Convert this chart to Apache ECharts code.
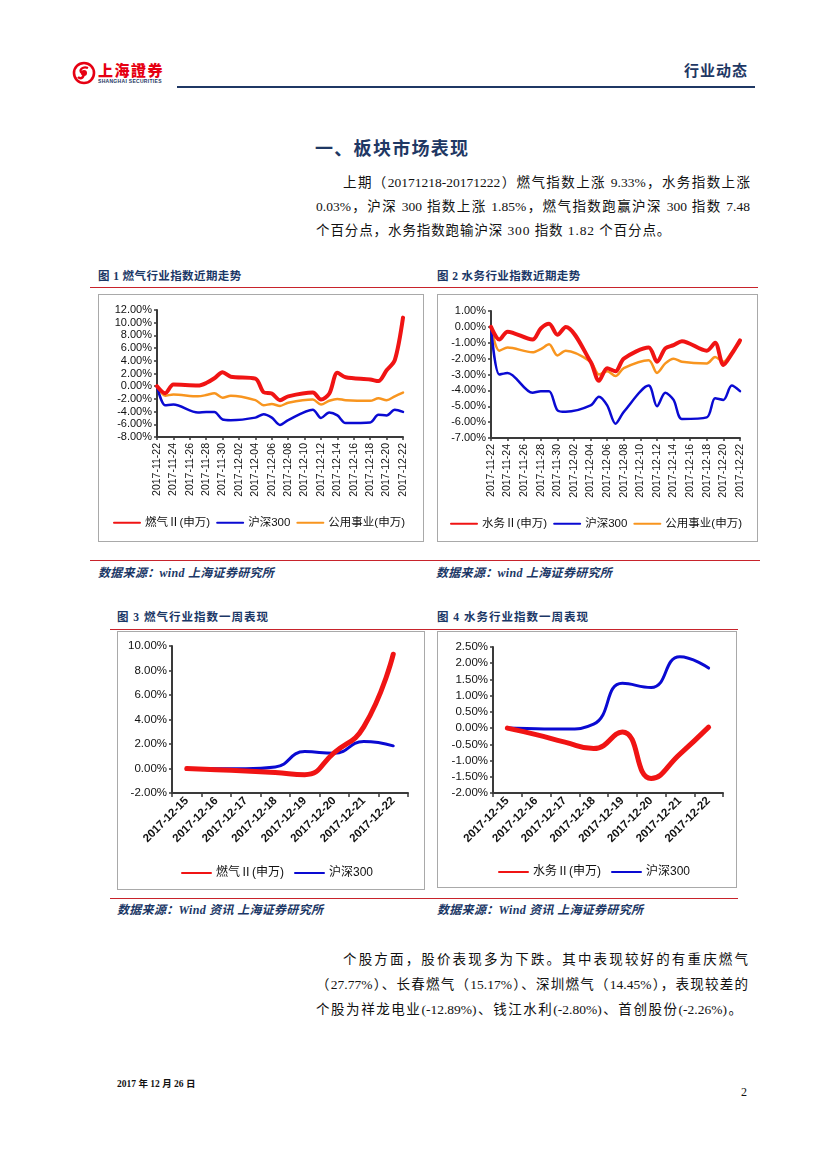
<!DOCTYPE html>
<html>
<head>
<meta charset="utf-8">
<script src="https://cdn.jsdelivr.net/npm/echarts@6/dist/echarts.min.js"></script>
<style>
  html,body{margin:0;padding:0;background:#fff;}
  #page{position:relative;width:827px;height:1169px;overflow:hidden;background:#fff;}
  .abs{position:absolute;white-space:nowrap;}
  .navy{color:#1F3864;}
  .body{font-family:"Liberation Serif","Noto Sans CJK SC",serif;font-size:13.5px;color:#111;line-height:1;}
  .just{text-align:justify;text-align-last:justify;}
  .cap{font-family:"Liberation Serif","Noto Sans CJK SC",serif;font-size:11.5px;font-weight:bold;color:#1B3766;line-height:1;letter-spacing:0.4px;}
  .src{font-family:"Liberation Serif","Noto Sans CJK SC",serif;font-size:12px;font-weight:bold;font-style:italic;color:#1B3766;line-height:1;letter-spacing:0.3px;}
  .rule{position:absolute;height:1px;background:#C8232B;}
  .box{position:absolute;border:1px solid #A9A9A9;box-sizing:border-box;}
</style>
</head>
<body>
<div id="page">
  <!-- header -->
  <svg class="abs" style="left:72px;top:61px" width="24" height="24" viewBox="0 0 24 24">
    <circle cx="12" cy="12" r="10" fill="none" stroke="#E60012" stroke-width="2.6"/>
    <path d="M16 7 C11 5,6 9,10 12 C14 15,9 19,6 16" fill="none" stroke="#E60012" stroke-width="2.4"/>
    <circle cx="12" cy="12" r="3" fill="#E60012"/>
  </svg>
  <div class="abs" style="left:98px;top:62px;font-family:'Noto Sans CJK TC';font-weight:900;font-size:15px;color:#E60012;letter-spacing:1.5px;line-height:1;">上海證券</div>
  <div class="abs" style="left:98px;top:79px;font-family:'Liberation Sans';font-weight:bold;font-size:5px;color:#1F3864;line-height:1;letter-spacing:0.3px;">SHANGHAI SECURITIES</div>
  <div class="abs" style="left:177px;top:86px;width:578px;height:2px;background:#1F3864;"></div>
  <div class="abs navy" style="left:684px;top:62px;font-family:'Noto Sans CJK SC';font-weight:bold;font-size:15px;line-height:1;letter-spacing:1px;">行业动态</div>

  <!-- section title -->
  <div class="abs navy" style="left:315px;top:138px;font-family:'Noto Sans CJK SC';font-weight:bold;font-size:18px;line-height:1;letter-spacing:1.3px;">一、板块市场表现</div>
  <div class="abs body just" style="left:343px;top:176px;width:407px;">上期（20171218-20171222）燃气指数上涨 9.33%，水务指数上涨</div>
  <div class="abs body just" style="left:316px;top:200px;width:434px;">0.03%，沪深 300 指数上涨 1.85%，燃气指数跑赢沪深 300 指数 7.48</div>
  <div class="abs body" style="left:316px;top:224px;letter-spacing:0.9px;">个百分点，水务指数跑输沪深 300 指数 1.82 个百分点。</div>

  <!-- figure row 1 -->
  <div class="abs cap" style="left:98px;top:271px;">图 1 燃气行业指数近期走势</div>
  <div class="abs cap" style="left:437px;top:271px;">图 2 水务行业指数近期走势</div>
  <div class="rule" style="left:90px;top:287px;width:668px;"></div>
  <div class="box" id="c1" style="left:98px;top:294px;width:326px;height:248px;"></div>
  <div class="box" id="c2" style="left:437px;top:294px;width:321px;height:248px;"></div>
  <div class="rule" style="left:90px;top:560px;width:670px;"></div>
  <div class="abs src" style="left:98px;top:567px;">数据来源：wind 上海证券研究所</div>
  <div class="abs src" style="left:436px;top:567px;">数据来源：wind 上海证券研究所</div>

  <!-- figure row 2 -->
  <div class="abs cap" style="left:117px;top:612px;letter-spacing:1px;">图 3 燃气行业指数一周表现</div>
  <div class="abs cap" style="left:437px;top:612px;letter-spacing:1px;">图 4 水务行业指数一周表现</div>
  <div class="rule" style="left:110px;top:629px;width:628px;"></div>
  <div class="box" id="c3" style="left:117px;top:631px;width:308px;height:259px;"></div>
  <div class="box" id="c4" style="left:437px;top:631px;width:300px;height:257px;"></div>
  <div class="rule" style="left:110px;top:898px;width:628px;"></div>
  <div class="abs src" style="left:117px;top:904px;">数据来源：Wind 资讯 上海证券研究所</div>
  <div class="abs src" style="left:437px;top:904px;">数据来源：Wind 资讯 上海证券研究所</div>

  <!-- paragraph 2 -->
  <div class="abs body just" style="left:343px;top:953px;width:405px;">个股方面，股价表现多为下跌。其中表现较好的有重庆燃气</div>
  <div class="abs body just" style="left:316px;top:978px;width:432px;">（27.77%）、长春燃气（15.17%）、深圳燃气（14.45%），表现较差的</div>
  <div class="abs body just" style="left:316px;top:1003px;width:426px;">个股为祥龙电业(-12.89%)、钱江水利(-2.80%)、首创股份(-2.26%)。</div>

  <!-- footer -->
  <div class="abs" style="left:117px;top:1080px;font-family:'Liberation Serif','Noto Sans CJK SC',serif;font-weight:bold;font-size:9.5px;color:#111;line-height:1;">2017 年 12 月 26 日</div>
  <div class="abs" style="left:741px;top:1086px;font-family:'Liberation Serif',serif;font-size:12px;color:#111;line-height:1;">2</div>
</div>

<script>
// ---------------- data ----------------
const calendarDays = ['2017-11-22','2017-11-23','2017-11-24','2017-11-25','2017-11-26','2017-11-27','2017-11-28','2017-11-29','2017-11-30','2017-12-01','2017-12-02','2017-12-03','2017-12-04','2017-12-05','2017-12-06','2017-12-07','2017-12-08','2017-12-09','2017-12-10','2017-12-11','2017-12-12','2017-12-13','2017-12-14','2017-12-15','2017-12-16','2017-12-17','2017-12-18','2017-12-19','2017-12-20','2017-12-21','2017-12-22'];
const tradeDates = ['2017-11-22','2017-11-23','2017-11-24','2017-11-27','2017-11-28','2017-11-29','2017-11-30','2017-12-01','2017-12-04','2017-12-05','2017-12-06','2017-12-07','2017-12-08','2017-12-11','2017-12-12','2017-12-13','2017-12-14','2017-12-15','2017-12-18','2017-12-19','2017-12-20','2017-12-21','2017-12-22'];
const gasIndex   = [0, -1.1, 0.25, 0.1, 0.5, 1.25, 2.2, 1.5, 1.2, -0.95, -1.15, -2.2, -1.6, -1.0, -2.1, -1.2, 2.1, 1.4, 1.05, 0.8, 2.5, 4.1, 10.8];
const waterIndex = [0, -0.8, -0.3, -0.8, -0.1, 0.2, -0.5, 0.0, -2.2, -3.4, -2.6, -2.8, -2.0, -1.3, -2.2, -1.35, -1.15, -0.9, -1.5, -1.0, -2.4, -1.7, -0.85];
const hs300      = [0, -3.0, -2.9, -4.15, -4.05, -4.05, -5.25, -5.35, -4.95, -4.4, -4.95, -6.1, -5.35, -3.7, -5.0, -4.15, -4.6, -5.8, -5.7, -4.5, -4.6, -3.7, -4.05];
const utilities  = [0, -1.5, -1.3, -1.6, -1.4, -1.1, -1.8, -1.5, -2.2, -3.0, -2.8, -3.1, -2.6, -2.1, -2.9, -2.3, -2.0, -2.2, -2.3, -1.9, -2.2, -1.6, -1.0];

const weekDates = ['2017-12-15','2017-12-16','2017-12-17','2017-12-18','2017-12-19','2017-12-20','2017-12-21','2017-12-22'];
const gasWeek   = [0, -0.1, -0.2, -0.32, -0.5, 1.3, 3.4, 9.33];
const waterWeek = [0, -0.2, -0.43, -0.63, -0.12, -1.55, -0.8, 0.03];
const hs300Week = [0, -0.02, -0.03, 0.12, 1.38, 1.25, 2.2, 1.85];

const NAME_GAS = '燃气Ⅱ(申万)';
const NAME_WATER = '水务Ⅱ(申万)';
const NAME_HS = '沪深300';
const NAME_UTIL = '公用事业(申万)';

// ---------------- styles ----------------
const RED = '#F01414', BLUE = '#0A0AD2', ORANGE = '#F8951F', AXIS = '#3A3A3A';
const FONT = '"Liberation Sans", "Noto Sans CJK SC", sans-serif';

function onCalendar(values) {
  // place trading-day values on the calendar axis (weekends empty)
  return calendarDays.map(d => {
    const i = tradeDates.indexOf(d);
    return i >= 0 ? values[i] : null;
  });
}

function pct(v) { return v.toFixed(2) + '%'; }

function yAxisOpt(min, max, interval, fs) {
  return {
    type: 'value', min: min, max: max, interval: interval,
    axisLine: {show: true, lineStyle: {color: AXIS, width: 2}},
    axisTick: {show: true, length: 3, lineStyle: {color: AXIS, width: 1.5}},
    splitLine: {show: false},
    axisLabel: {formatter: pct, color: '#111', fontSize: fs, fontFamily: FONT, margin: 5}
  };
}

function legendOpt(left, top, names, iw, gap, fs) {
  return {
    left: left, top: top, width: 400, itemWidth: iw, itemHeight: 12, itemGap: gap,
    itemStyle: {opacity: 0},
    data: names,
    textStyle: {fontSize: fs, color: '#111', fontFamily: FONT}
  };
}

function lineSeries(name, data, color, width, smooth) {
  return {
    name: name, type: 'line', data: data, smooth: smooth, connectNulls: true,
    symbol: 'none', showSymbol: false,
    lineStyle: {color: color, width: width, cap: 'round', join: 'round'},
    itemStyle: {color: color}
  };
}

function monthChart(el, grid, legend, yMin, yMax, yInt, mainName, mainData) {
  const chart = echarts.init(document.getElementById(el), null, {renderer: 'canvas'});
  chart.setOption({
    animation: false,
    grid: grid,
    legend: legendOpt(legend[0], legend[1], [mainName, NAME_HS, NAME_UTIL], 26, 6, 11.5),
    xAxis: {
      type: 'category', data: calendarDays, boundaryGap: false,
      axisLine: {onZero: false, lineStyle: {color: AXIS, width: 2}},
      axisTick: {show: true, interval: 1, length: 3, lineStyle: {color: AXIS, width: 1.5}},
      axisLabel: {interval: 1, rotate: 90, color: '#111', fontSize: 10.5, fontFamily: FONT, margin: 6}
    },
    yAxis: yAxisOpt(yMin, yMax, yInt, 11),
    series: [
      lineSeries(NAME_UTIL, onCalendar(utilities), ORANGE, 2.5, 0.3),
      lineSeries(NAME_HS, onCalendar(hs300), BLUE, 2.5, 0.3),
      lineSeries(mainName, onCalendar(mainData), RED, 4, 0.3)
    ]
  });
}

function weekChart(el, grid, legend, yMin, yMax, yInt, mainName, mainData) {
  const chart = echarts.init(document.getElementById(el), null, {renderer: 'canvas'});
  chart.setOption({
    animation: false,
    grid: grid,
    legend: legendOpt(legend[0], legend[1], [mainName, NAME_HS], 29, 10, 12),
    xAxis: {
      type: 'category', data: weekDates, boundaryGap: true,
      axisLine: {onZero: false, lineStyle: {color: AXIS, width: 2}},
      axisTick: {show: true, length: 4, lineStyle: {color: AXIS, width: 1.5}},
      axisLabel: {interval: 0, rotate: 45, color: '#111', fontSize: 11.5, fontWeight: 'bold', fontFamily: FONT, margin: 6}
    },
    yAxis: yAxisOpt(yMin, yMax, yInt, 11.5),
    series: [
      lineSeries(NAME_HS, hs300Week, BLUE, 3, 0.5),
      lineSeries(mainName, mainData, RED, 5, 0.5)
    ]
  });
}

monthChart('c1', {left: 58, top: 15, width: 246, height: 127}, [9, 217], -8, 12, 2, NAME_GAS, gasIndex);
monthChart('c2', {left: 53, top: 16, width: 249, height: 127}, [7, 218], -7, 1, 1, NAME_WATER, waterIndex);
weekChart('c3', {left: 54, top: 14, width: 236, height: 147}, [58, 230], -2, 10, 2, NAME_GAS, gasWeek);
weekChart('c4', {left: 55, top: 15, width: 230, height: 146}, [55, 229], -2, 2.5, 0.5, NAME_WATER, waterWeek);
</script>
</body>
</html>
